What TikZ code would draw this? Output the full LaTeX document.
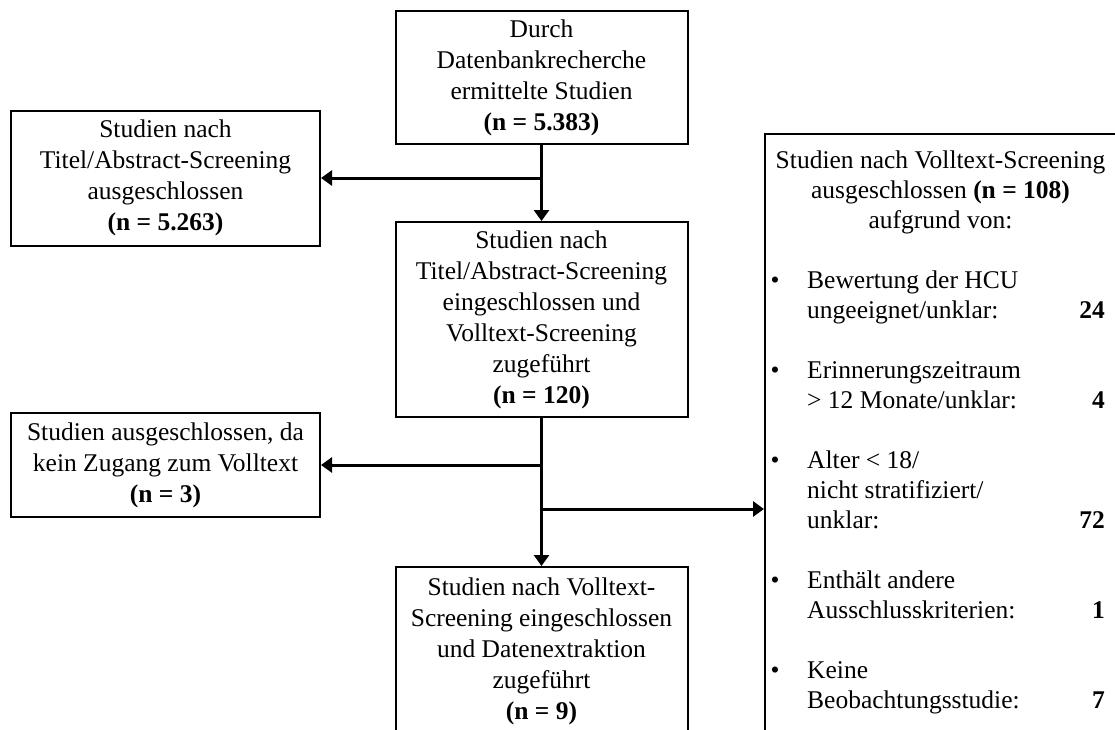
\documentclass[tikz,border=0pt]{standalone}
\usepackage{fontspec}
\setmainfont{Liberation Serif}
\usetikzlibrary{arrows.meta}
\newcommand\diafont{\fontsize{25.5}{31}\selectfont}
\begin{document}
\begin{tikzpicture}[x=1pt,y=-1pt,
  box/.style={draw, line width=2pt, align=center, inner sep=0pt, font=\diafont},
  ln/.style={inner sep=0pt, font=\diafont},
  arr/.style={line width=3pt, -{Triangle[length=11pt,width=15pt]}}
]
\useasboundingbox (0,0) rectangle (1115,729);
\clip (0,0) rectangle (1115,729);

% main column
\node[box, minimum width=292pt, minimum height=133pt] (top) at (541.5,77.5)
  {Durch\\Datenbankrecherche\\ermittelte Studien\\\textbf{(n = 5.383)}};
\node[box, minimum width=292pt, minimum height=195pt] (mid) at (541.5,319.5)
  {Studien nach\\Titel/Abstract-Screening\\eingeschlossen und\\Volltext-Screening\\zugeführt\\\textbf{(n = 120)}};
\node[box, minimum width=292pt, minimum height=168pt] (bot) at (541.5,651)
  {Studien nach Volltext-\\Screening eingeschlossen\\und Datenextraktion\\zugeführt\\\textbf{(n = 9)}};

% left column
\node[box, minimum width=309pt, minimum height=135pt] (left1) at (165.5,178)
  {Studien nach\\Titel/Abstract-Screening\\ausgeschlossen\\\textbf{(n = 5.263)}};
\node[box, minimum width=309pt, minimum height=104pt] (left2) at (165.5,465)
  {Studien ausgeschlossen, da\\kein Zugang zum Volltext\\\textbf{(n = 3)}};

% right box
\node[draw, line width=2pt, inner sep=0pt, minimum width=353pt, minimum height=640pt,
      anchor=north west] (rbox) at (764,133) {};
\node[ln, anchor=base] (h1) at (940.5,168) {Studien nach Volltext-Screening};
\node[ln, anchor=base] (h2) at (940.5,198) {ausgeschlossen \textbf{(n = 108)}};
\node[ln, anchor=base] (h3) at (940.5,228) {aufgrund von:};

\node[ln, anchor=base] (b1) at (775,288) {•};
\node[ln, anchor=base west] (t1a) at (807,288) {Bewertung der HCU};
\node[ln, anchor=base west] (t1b) at (807,318) {ungeeignet/unklar:};
\node[ln, anchor=base east] (n1) at (1105,318) {\textbf{24}};

\node[ln, anchor=base] (b2) at (775,378) {•};
\node[ln, anchor=base west] (t2a) at (807,378) {Erinnerungszeitraum};
\node[ln, anchor=base west] (t2b) at (807,408) {> 12 Monate/unklar:};
\node[ln, anchor=base east] (n2) at (1105,408) {\textbf{4}};

\node[ln, anchor=base] (b3) at (775,468) {•};
\node[ln, anchor=base west] (t3a) at (807,468) {Alter < 18/};
\node[ln, anchor=base west] (t3b) at (807,498) {nicht stratifiziert/};
\node[ln, anchor=base west] (t3c) at (807,528) {unklar:};
\node[ln, anchor=base east] (n3) at (1105,528) {\textbf{72}};

\node[ln, anchor=base] (b4) at (775,588) {•};
\node[ln, anchor=base west] (t4a) at (807,588) {Enthält andere};
\node[ln, anchor=base west] (t4b) at (807,618) {Ausschlusskriterien:};
\node[ln, anchor=base east] (n4) at (1105,618) {\textbf{1}};

\node[ln, anchor=base] (b5) at (775,678) {•};
\node[ln, anchor=base west] (t5a) at (807,678) {Keine};
\node[ln, anchor=base west] (t5b) at (807,708) {Beobachtungsstudie:};
\node[ln, anchor=base east] (n5) at (1105,708) {\textbf{7}};

% connectors
\coordinate (j1) at (top.south |- left1.east);
\coordinate (j2) at (mid.south |- left2.east);
\coordinate (ry) at (0,509);
\coordinate (j3) at (mid.south |- ry);
\draw[arr] (top.south) -- (mid.north);
\draw[arr] (j1) -- (left1.east);
\draw[arr] (mid.south) -- (bot.north);
\draw[arr] (j2) -- (left2.east);
\draw[arr] (j3) -- (j3 -| rbox.west);
\end{tikzpicture}
\end{document}
